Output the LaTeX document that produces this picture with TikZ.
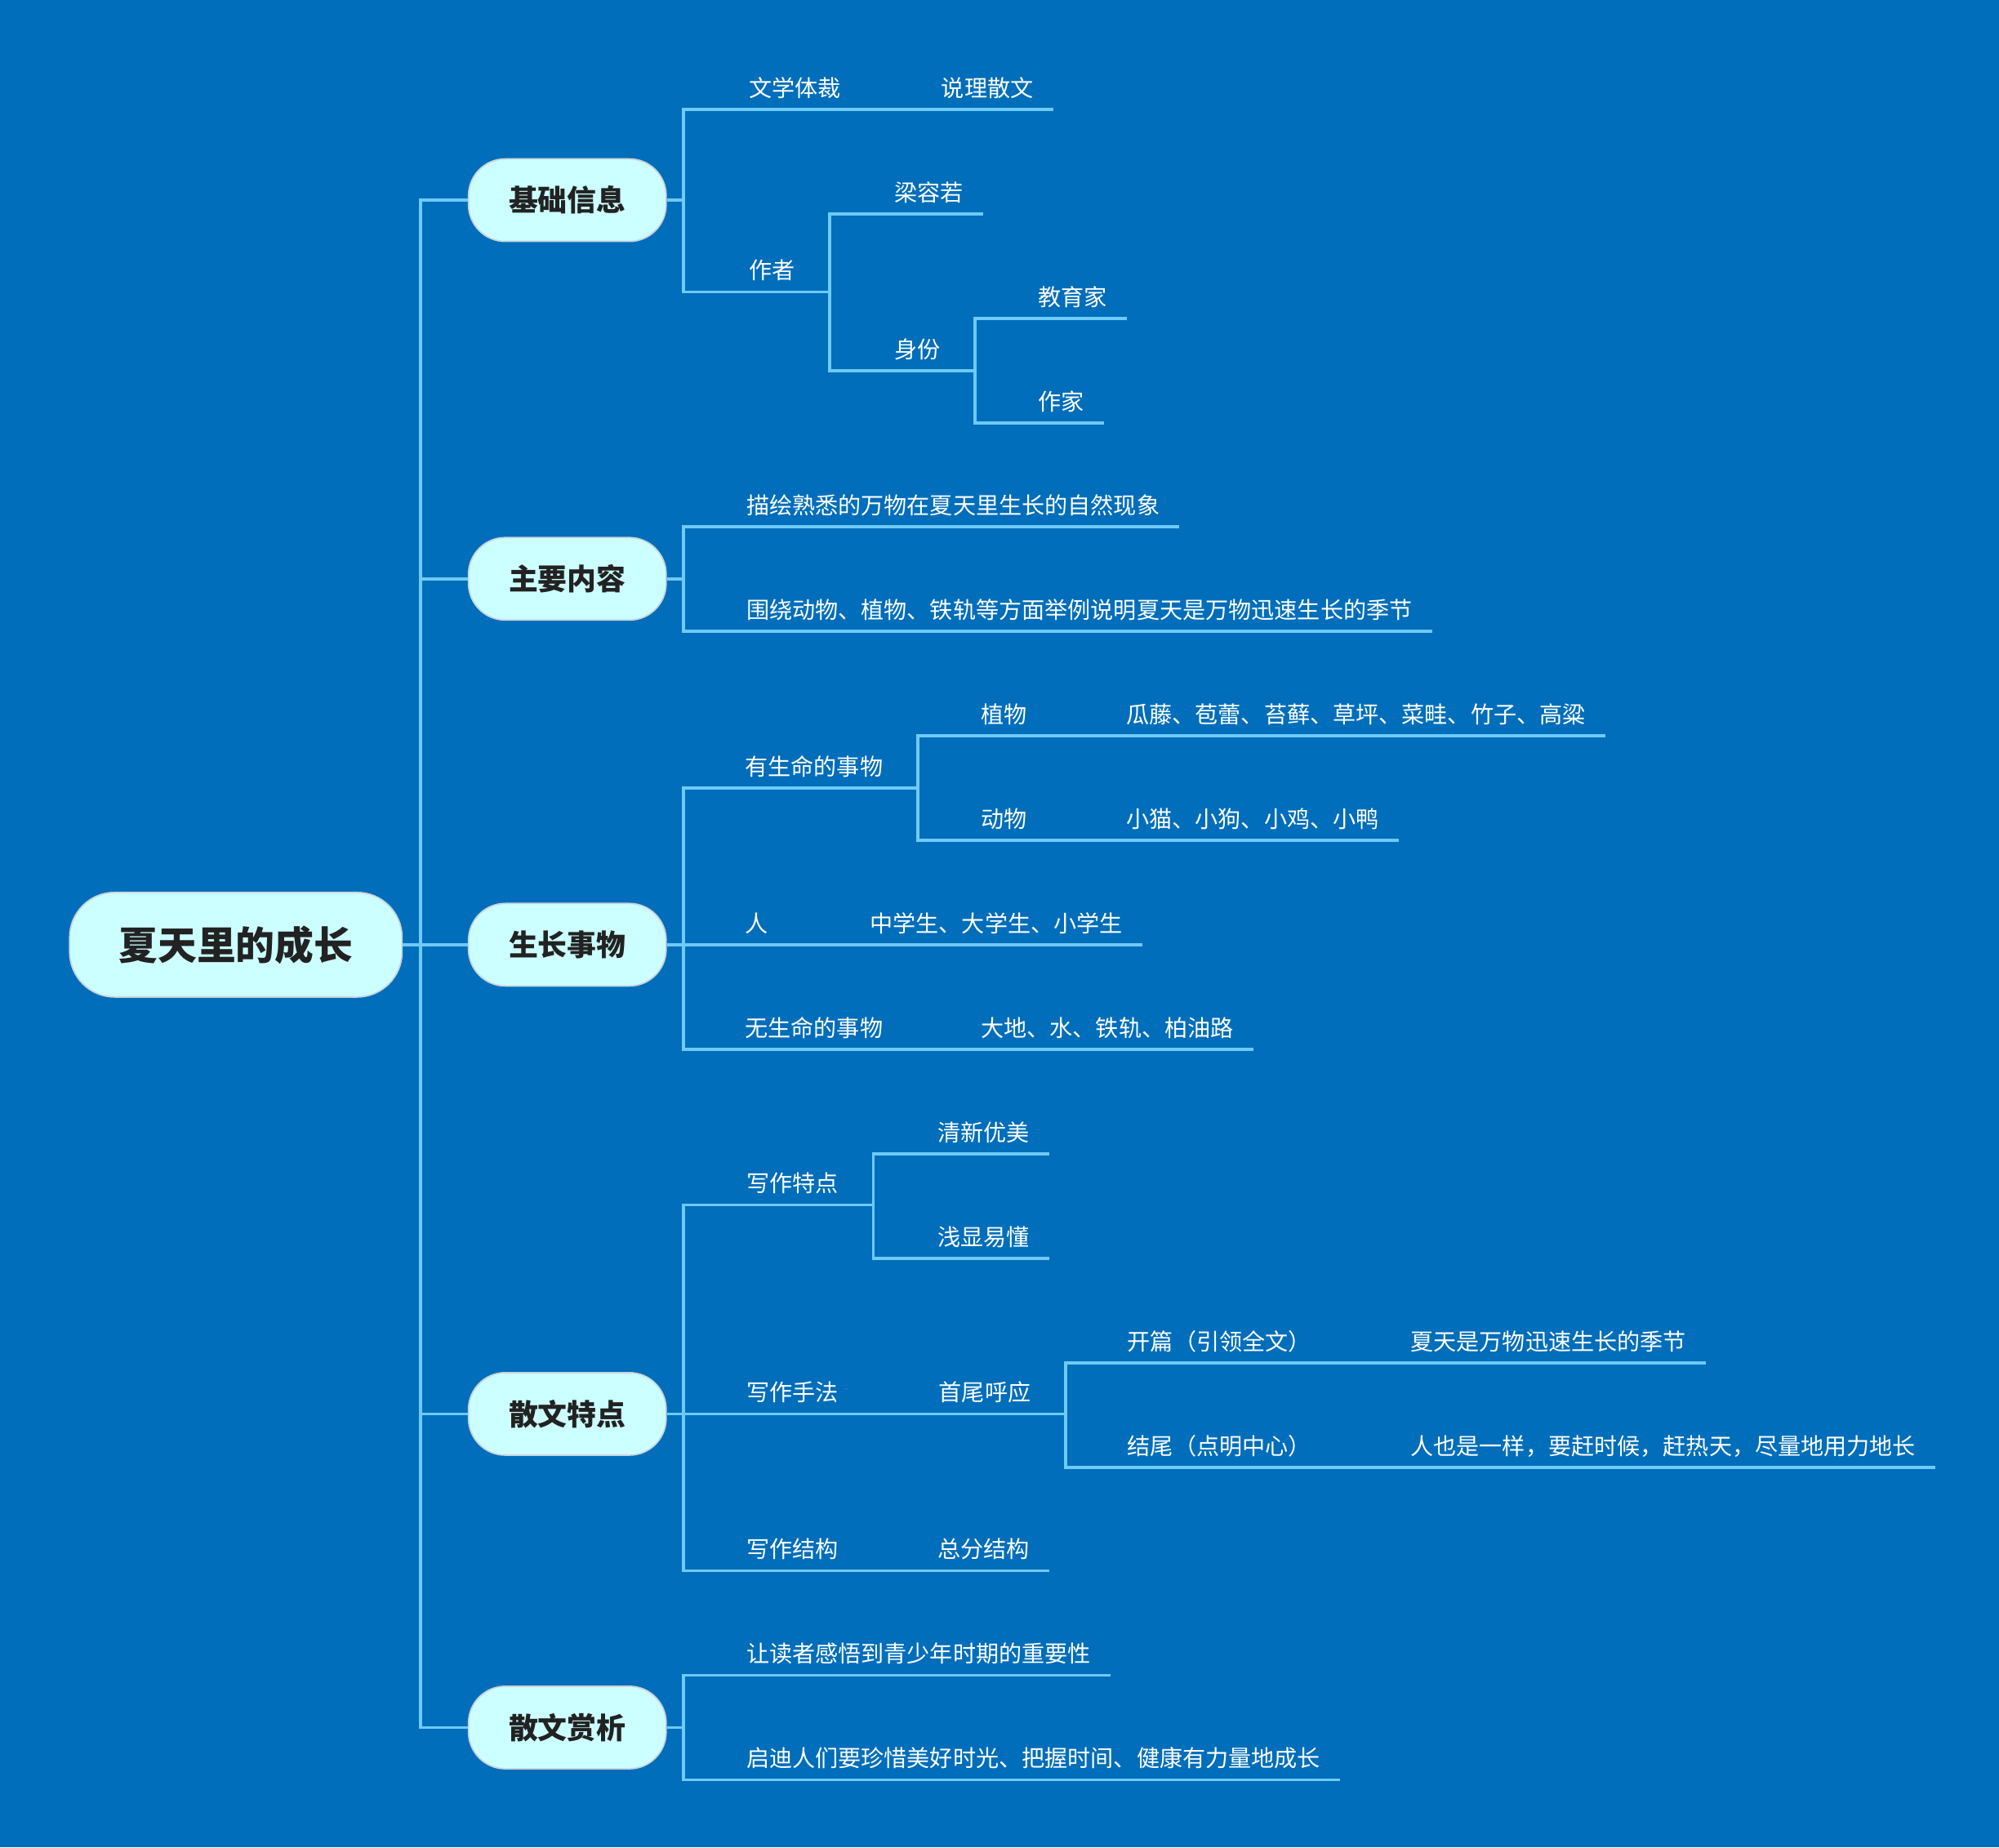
\documentclass[tikz,border=0pt]{standalone}
\usepackage{fontspec}
\setmainfont{Noto Sans CJK SC}
\usepackage{tikz}
\usetikzlibrary{positioning, calc}
\definecolor{mybg}{RGB}{0,110,186}
\definecolor{mybranch}{RGB}{110,202,248}
\definecolor{mycyan}{RGB}{204,255,255}
\definecolor{myborder}{RGB}{200,212,220}
\definecolor{mydark}{RGB}{34,34,34}
\tikzset{
  root/.style={rectangle, draw=myborder, fill=mycyan, text=mydark,
    minimum width=4.07cm, minimum height=1.28cm, rounded corners=0.55cm,
    font=\fontsize{13.6}{16}\selectfont\bfseries, line width=0.5pt},
  topic/.style={rectangle, draw=myborder, fill=mycyan, text=mydark,
    minimum width=2.42cm, minimum height=1.01cm, rounded corners=0.45cm,
    font=\fontsize{10.2}{12}\selectfont\bfseries, line width=0.5pt},
  leaf/.style={anchor=base west, inner sep=0pt, text=white,
    font=\fontsize{8}{10}\selectfont},
  line/.style={draw=mybranch, line width=1.05pt}
}

\begin{document}
\begin{tikzpicture}[x=0.015612cm, y=-0.015612cm]
  % Background
  \fill[mybg] (0,0) rectangle (1568,1449);

  % Root and main topics
  \node[root] (root) at (185,741) {夏天里的成长};
  \coordinate (spine) at (330,741);
  \node[topic] (jcxx) at (445,157) {基础信息};
  \node[topic] (zynr) at (445,454) {主要内容};
  \node[topic] (szsw) at (445,741) {生长事物};
  \node[topic] (swtd) at (445,1109) {散文特点};
  \node[topic] (swsx) at (445,1355) {散文赏析};
  \draw[line] (root.east) -- (spine);
  \foreach \t in {jcxx,zynr,szsw,swtd,swsx} {
    \draw[line] (spine) |- (\t.west);
    \coordinate (\t-f) at ($(\t.east)+(13,0)$);
    \draw[line] (\t.east) -- (\t-f);
  }

  % Basic info group
  \node[leaf] (wxtc) at (587,76) {文学体裁};
  \node[leaf] (slsw) at (738,76) {说理散文};
  \node[leaf] (zz) at (587,219) {作者};
  \coordinate (zz-f) at ($(zz.base east)+(27,10)$);
  \node[leaf] (lrr) at (701,158) {梁容若};
  \node[leaf] (sf) at (701,281) {身份};
  \coordinate (sf-f) at ($(sf.base east)+(27,10)$);
  \node[leaf] (jyj) at (814,240) {教育家};
  \node[leaf] (zj) at (814,322) {作家};
  \draw[line] (jcxx-f) |- ($(slsw.base east)+(15,10)$);
  \draw[line] (jcxx-f) |- (zz-f);
  \draw[line] (zz-f) |- ($(lrr.base east)+(15,10)$);
  \draw[line] (zz-f) |- (sf-f);
  \draw[line] (sf-f) |- ($(jyj.base east)+(15,10)$);
  \draw[line] (sf-f) |- ($(zj.base east)+(15,10)$);

  % Main content group
  \node[leaf] (mhsx) at (585,403) {描绘熟悉的万物在夏天里生长的自然现象};
  \node[leaf] (wrdw) at (585,485) {围绕动物、植物、铁轨等方面举例说明夏天是万物迅速生长的季节};
  \draw[line] (zynr-f) |- ($(mhsx.base east)+(15,10)$);
  \draw[line] (zynr-f) |- ($(wrdw.base east)+(15,10)$);

  % Growing things group
  \node[leaf] (ysm) at (584,608) {有生命的事物};
  \coordinate (ysm-f) at ($(ysm.base east)+(27,10)$);
  \node[leaf] (zw) at (769,567) {植物};
  \node[leaf] (gtbl) at (883,567) {瓜藤、苞蕾、苔藓、草坪、菜畦、竹子、高粱};
  \node[leaf] (dw) at (769,649) {动物};
  \node[leaf] (xmxg) at (883,649) {小猫、小狗、小鸡、小鸭};
  \node[leaf] (ren) at (584,731) {人};
  \node[leaf] (zxs) at (682,731) {中学生、大学生、小学生};
  \node[leaf] (wsm) at (584,813) {无生命的事物};
  \node[leaf] (ddsg) at (769,813) {大地、水、铁轨、柏油路};
  \draw[line] (szsw-f) |- (ysm-f);
  \draw[line] (ysm-f) |- ($(gtbl.base east)+(15,10)$);
  \draw[line] (ysm-f) |- ($(xmxg.base east)+(15,10)$);
  \draw[line] (szsw-f) |- ($(zxs.base east)+(15,10)$);
  \draw[line] (szsw-f) |- ($(ddsg.base east)+(15,10)$);

  % Prose features group
  \node[leaf] (xztd) at (585,935) {写作特点};
  \coordinate (xztd-f) at ($(xztd.base east)+(27,10)$);
  \node[leaf] (qxym) at (735,895) {清新优美};
  \node[leaf] (qxyd) at (735,977) {浅显易懂};
  \node[leaf] (xzsf) at (585,1099) {写作手法};
  \node[leaf] (swhy) at (736,1099) {首尾呼应};
  \coordinate (swhy-f) at ($(swhy.base east)+(27,10)$);
  \node[leaf] (kp) at (884,1059) {开篇（引领全文）};
  \node[leaf] (xtsw) at (1106,1059) {夏天是万物迅速生长的季节};
  \node[leaf] (jw) at (884,1141) {结尾（点明中心）};
  \node[leaf] (ryss) at (1106,1141) {人也是一样，要赶时候，赶热天，尽量地用力地长};
  \node[leaf] (xzjg) at (585,1222) {写作结构};
  \node[leaf] (zfjg) at (735,1222) {总分结构};
  \draw[line] (swtd-f) |- (xztd-f);
  \draw[line] (xztd-f) |- ($(qxym.base east)+(15,10)$);
  \draw[line] (xztd-f) |- ($(qxyd.base east)+(15,10)$);
  \draw[line] (swtd-f) |- (swhy-f);
  \draw[line] (swhy-f) |- ($(xtsw.base east)+(15,10)$);
  \draw[line] (swhy-f) |- ($(ryss.base east)+(15,10)$);
  \draw[line] (swtd-f) |- ($(zfjg.base east)+(15,10)$);

  % Appreciation group
  \node[leaf] (rdz) at (585,1304) {让读者感悟到青少年时期的重要性};
  \node[leaf] (qdrm) at (585,1386) {启迪人们要珍惜美好时光、把握时间、健康有力量地成长};
  \draw[line] (swsx-f) |- ($(rdz.base east)+(15,10)$);
  \draw[line] (swsx-f) |- ($(qdrm.base east)+(15,10)$);
\end{tikzpicture}
\end{document}
